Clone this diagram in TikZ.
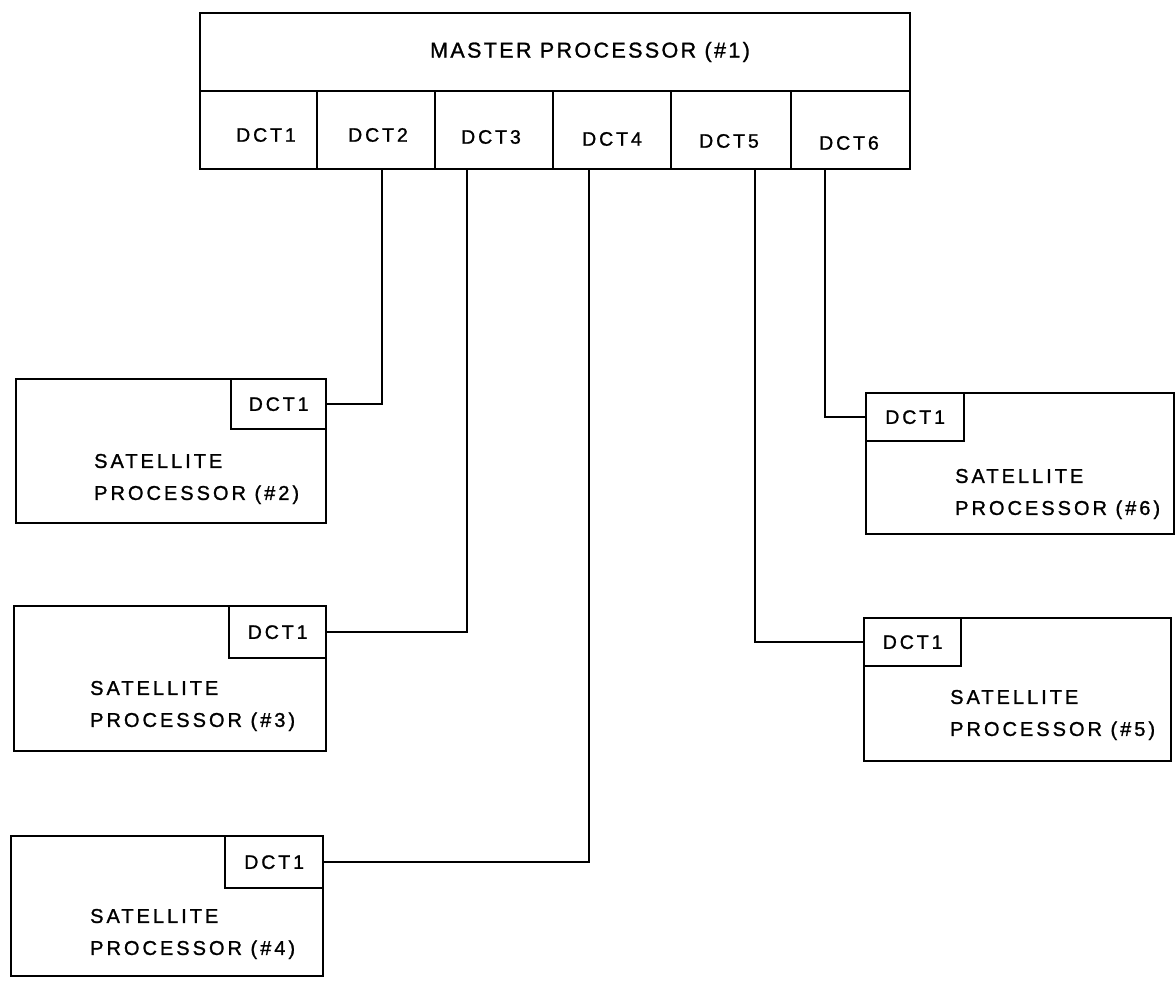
\documentclass[tikz,border=0pt]{standalone}
\usepackage{fontspec}
\newfontfamily\lettering[LetterSpace=15,FakeBold=1.2]{Liberation Sans}
\newfontfamily\titlelettering[LetterSpace=11,FakeBold=1.2]{Liberation Sans}
\begin{document}
\begin{tikzpicture}[x=1pt,y=-1pt,
  frame/.style={draw, line width=2.3pt, rectangle, inner sep=0pt, anchor=north west},
  port/.style={frame, font=\lettering\fontsize{19.5}{22}\selectfont},
  tag/.style={inner sep=0pt, font=\lettering\fontsize{19.5}{22}\selectfont},
  title/.style={inner sep=0pt, font=\titlelettering\fontsize{21.5}{25}\selectfont},
  desc/.style={inner sep=0pt, anchor=west, align=left, font=\lettering\fontsize{20}{32}\selectfont},
  wire/.style={draw, line width=2.3pt}]
\useasboundingbox (0,0) rectangle (1175,981);

% master processor with its six DCT ports
\node[frame, minimum width=710pt, minimum height=78pt] (mp) at (199,12) {};
\node[title] (mpt) at (590,52) {MASTER PROCESSOR (\#1)};
\node[frame, minimum width=117pt, minimum height=78pt] (c1) at (199,90) {};
\node[frame, minimum width=118pt, minimum height=78pt] (c2) at (316,90) {};
\node[frame, minimum width=118pt, minimum height=78pt] (c3) at (434,90) {};
\node[frame, minimum width=118pt, minimum height=78pt] (c4) at (552,90) {};
\node[frame, minimum width=120pt, minimum height=78pt] (c5) at (670,90) {};
\node[frame, minimum width=119pt, minimum height=78pt] (c6) at (790,90) {};
\node[tag] (c1t) at (266,135) {DCT1};
\node[tag] (c2t) at (378,135) {DCT2};
\node[tag] (c3t) at (491,137) {DCT3};
\node[tag] (c4t) at (612,139) {DCT4};
\node[tag] (c5t) at (729,141) {DCT5};
\node[tag] (c6t) at (849,143) {DCT6};

% satellite processors
\node[frame, minimum width=310pt, minimum height=144pt] (s2) at (15,378) {};
\node[port, minimum width=95pt, minimum height=50pt] (s2d) at (230,378) {DCT1};
\node[desc] (s2t) at (94,479) {SATELLITE\\PROCESSOR (\#2)};

\node[frame, minimum width=312pt, minimum height=145pt] (s3) at (13,605) {};
\node[port, minimum width=97pt, minimum height=52pt] (s3d) at (228,605) {DCT1};
\node[desc] (s3t) at (90,706) {SATELLITE\\PROCESSOR (\#3)};

\node[frame, minimum width=312pt, minimum height=140pt] (s4) at (10,835) {};
\node[port, minimum width=98pt, minimum height=52pt] (s4d) at (224,835) {DCT1};
\node[desc] (s4t) at (90,934) {SATELLITE\\PROCESSOR (\#4)};

\node[frame, minimum width=307pt, minimum height=143pt] (s5) at (863,617) {};
\node[port, minimum width=97pt, minimum height=48pt] (s5d) at (863,617) {DCT1};
\node[desc] (s5t) at (950,715) {SATELLITE\\PROCESSOR (\#5)};

\node[frame, minimum width=308pt, minimum height=141pt] (s6) at (865,392) {};
\node[port, minimum width=98pt, minimum height=48pt] (s6d) at (865,392) {DCT1};
\node[desc] (s6t) at (955,494) {SATELLITE\\PROCESSOR (\#6)};

% links from master ports to satellite ports
\draw[wire] ([xshift=6pt]c2.south) |- (s2d.east);
\draw[wire] ([xshift=-27pt]c3.south) |- (s3d.east);
\draw[wire] ([xshift=-23pt]c4.south) |- (s4d.east);
\draw[wire] ([xshift=24pt]c5.south) |- (s5d.west);
\draw[wire] ([xshift=-25.5pt]c6.south) |- (s6d.west);
\end{tikzpicture}
\end{document}
